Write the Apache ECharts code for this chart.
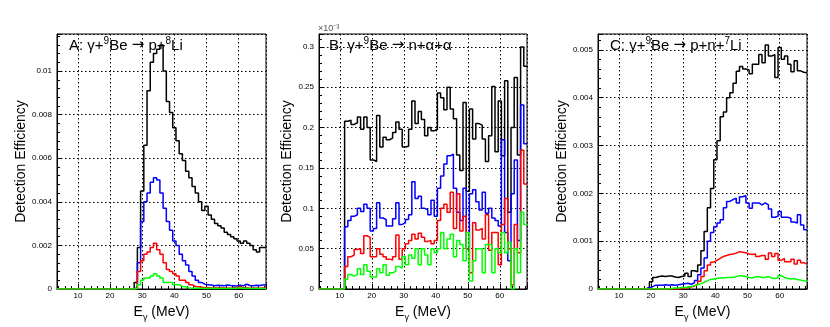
<!DOCTYPE html>
<html>
<head>
<meta charset="utf-8">
<script src="https://cdn.jsdelivr.net/npm/echarts@6/dist/echarts.min.js"></script>
<style>
  html, body { margin: 0; padding: 0; background: #fff; }
  #main { width: 830px; height: 327px; }
</style>
</head>
<body>
<div id="main"></div>
<script>
// bins are 1 MeV wide, centred on 4, 5, ... 68 MeV
var firstBin = 4;

// panel A: gamma + 9Be -> p + 8Li
var aBlack = [0,0,0,0,0,0,0,0,0,0,0,0,0,0,0,0,0,0,0,0,0,0,0,0,
  0.0003,0.0019,0.0045,0.0066,0.0091,0.0104,0.0108,0.0110,0.0112,0.0100,0.0086,0.0081,0.0074,
  0.0068,0.0062,0.0059,0.0054,0.0051,0.0047,0.0044,0.0040,0.0036,0.0038,0.0034,0.0032,0.0030,
  0.0029,0.0028,0.0026,0.0025,0.0024,0.0023,0.0022,0.0021,0.0022,0.0021,0.0020,0.0018,0.0017,
  0.0019,0.0019];
var aBlue = [0,0,0,0,0,0,0,0,0,0,0,0,0,0,0,0,0,0,0,0,0,0,0,0,
  0.00005,0.0012,0.0031,0.0040,0.0044,0.0049,0.0051,0.0050,0.0044,0.0037,0.0031,0.0027,0.0022,
  0.0020,0.0016,0.0013,0.0011,0.0008,0.0006,0.0004,0.0003,0.00022,0.0002,0.00018,0.00015,0.00017,
  0.00016,0.00015,0.00018,0.00016,0.00015,0.00014,0.00017,0.00015,0.00022,0.00016,0.00015,0.00017,
  0.00016,0.00018,0.00019];
var aRed = [0,0,0,0,0,0,0,0,0,0,0,0,0,0,0,0,0,0,0,0,0,0,0,0,
  0.00005,0.0008,0.0013,0.0016,0.0017,0.0019,0.0021,0.0018,0.0016,0.0012,0.0009,0.0008,0.0007,
  0.0006,0.0004,0.0004,0.0003,0.0002,0.00012,0.0001,0.00008,0.00006,0.00007,0.00005,0.00006,0.00005,
  0.00006,0.00005,0.00005,0.00004,0.00006,0.00005,0.00012,0.00005,0.00006,0.00004,0.00005,0.00005,
  0.00004,0.00005,0.00005];
var aGreen = [0,0,0,0,0,0,0,0,0,0,0,0,0,0,0,0,0,0,0,0,0,0,0,0,
  0.00002,0.0002,0.0004,0.0005,0.0005,0.0006,0.0007,0.0006,0.0005,0.0003,0.0003,0.0003,0.0002,
  0.0002,0.00012,0.0001,0.00005,0.00004,0.00003,0.00003,0.00003,0.00002,0.00003,0.00002,0.00003,0.00002,
  0.00003,0.00002,0.00002,0.00003,0.00002,0.00003,0.00006,0.00002,0.00003,0.00002,0.00002,0.00003,
  0.00002,0.00002,0.00002];

// panel B: gamma + 9Be -> n + alpha + alpha  (units of 1e-3)
var bBlack = [0,0,0,0,0,0,0,0,
  0.208,0.209,0.204,0.206,0.213,0.198,0.213,0.200,0.160,0.158,0.215,0.176,0.188,0.185,0.187,0.194,
  0.207,0.198,0.176,0.177,0.198,0.233,0.205,0.220,0.210,0.190,0.200,0.196,0.198,0.243,0.237,0.222,
  0.250,0.223,0.211,0.166,0.147,0.231,0.121,0.223,0.186,0.205,0.203,0.186,0.158,0.190,0.251,0.170,
  0.233,0.165,0.258,0.095,0.200,0.262,0.166,0.300,0.276];
var bBlue = [0,0,0,0,0,0,0,0,
  0.077,0.085,0.090,0.092,0.100,0.096,0.105,0.100,0.072,0.075,0.107,0.088,0.086,0.078,0.078,0.087,
  0.107,0.080,0.082,0.086,0.092,0.133,0.112,0.115,0.100,0.098,0.092,0.110,0.090,0.125,0.140,0.155,
  0.165,0.167,0.125,0.095,0.085,0.125,0.050,0.118,0.123,0.108,0.098,0.120,0.094,0.100,0.088,0.085,
  0.078,0.185,0.070,0.035,0.118,0.160,0.060,0.228,0.180];
var bRed = [0,0,0,0,0,0,0,0,
  0.028,0.040,0.042,0.049,0.050,0.044,0.066,0.064,0.040,0.040,0.050,0.043,0.040,0.037,0.036,0.040,
  0.067,0.037,0.050,0.056,0.060,0.068,0.062,0.069,0.064,0.059,0.060,0.056,0.060,0.085,0.100,0.105,
  0.095,0.120,0.075,0.118,0.072,0.090,0.050,0.020,0.082,0.073,0.075,0.062,0.092,0.048,0.070,0.070,
  0.030,0.080,0.112,0.050,0.005,0.080,0.045,0.172,0.130];
var bGreen = [0,0,0,0,0,0,0,0,
  0.012,0.018,0.016,0.018,0.025,0.018,0.030,0.022,0.015,0.015,0.025,0.020,0.030,0.017,0.020,0.022,
  0.028,0.026,0.040,0.030,0.042,0.038,0.050,0.030,0.050,0.042,0.030,0.050,0.045,0.050,0.070,0.050,
  0.062,0.068,0.040,0.060,0.055,0.035,0.070,0.010,0.035,0.050,0.050,0.020,0.055,0.055,0.020,0.050,
  0.045,0.070,0.045,0.058,0.000,0.050,0.020,0.095,0.080];

// panel C: gamma + 9Be -> p + n + 7Li
var cBlack = [0,0,0,0,0,0,0,0,0,0,0,0,0,0,0,
  0.00004,0.00015,0.00024,0.00026,0.00027,0.00026,0.00027,0.00027,0.00025,0.00024,0.00026,0.00027,
  0.00033,0.00026,0.00038,0.00036,0.00050,0.0008,0.0012,0.0017,0.0021,0.0027,0.0031,0.0036,0.0037,
  0.0040,0.0041,0.0043,0.00455,0.00465,0.0046,0.00458,0.0045,0.0047,0.0047,0.0049,0.00473,0.0051,
  0.00487,0.0049,0.00442,0.00505,0.0048,0.00487,0.0047,0.00454,0.00477,0.00456,0.00453,0.00452];
var cBlue = [0,0,0,0,0,0,0,0,0,0,0,0,0,0,0,
  0.00002,0.00005,0.00008,0.00008,0.00008,0.00009,0.00008,0.00009,0.00008,0.00009,0.0001,0.00011,
  0.00012,0.0001,0.00013,0.00018,0.0003,0.00044,0.00065,0.0010,0.00118,0.0013,0.00138,0.00145,0.0017,
  0.00183,0.00187,0.0019,0.0018,0.00193,0.00195,0.0018,0.00169,0.0018,0.0018,0.00176,0.0018,0.00176,
  0.00167,0.0015,0.00152,0.00162,0.0015,0.0015,0.00148,0.0014,0.00138,0.00155,0.00134,0.00124];
var cRed = [0,0,0,0,0,0,0,0,0,0,0,0,0,0,0,
  0,0,0,0,0,0,0,0,0,0,
  0.00001,0.00002,0.00003,0.00004,0.00006,0.0001,0.00016,0.00026,0.00038,0.0005,0.00056,0.0006,
  0.00064,0.00068,0.0007,0.00072,0.00073,0.00075,0.00078,0.00077,0.00076,0.00073,0.00072,0.00073,
  0.00068,0.0007,0.0007,0.00062,0.00075,0.00068,0.00074,0.0006,0.00064,0.00057,0.00057,0.00062,
  0.00052,0.0006,0.00055,0.00052];
var cGreen = [0,0,0,0,0,0,0,0,0,0,0,0,0,0,0,
  0,0,0,0,0,0,0,
  0.00001,0.00002,0.00002,0.00003,0.00003,0.00004,0.00005,0.00007,0.00009,0.00011,0.00014,0.00017,
  0.0002,0.00021,0.00022,0.00023,0.00023,0.00024,0.00024,0.00024,0.00026,0.00028,0.00027,0.00026,
  0.00024,0.00023,0.00025,0.00026,0.00024,0.00024,0.00026,0.00023,0.00022,0.00023,0.00028,0.00024,
  0.00022,0.00021,0.00022,0.0002,0.00019,0.00017,0.00016];

// reaction labels, rich-text: {p|} plain, {u|} superscript, {a|} arrow
var panelTitles = [
    '{p|A: γ+}{u|9}{p|Be }{a|→}{p| p+}{u|8}{p|Li}',
    '{p|B: γ+}{u|9}{p|Be }{a|→}{p| n+α+α}',
    '{p|C: γ+}{u|9}{p|Be }{a|→}{p| p+n+}{u|7}{p|Li}'
];
var yMax = [0.0117, 0.316, 0.00533];
var yStep = [0.002, 0.05, 0.001];
var colors = ['#000000', '#0000ff', '#ff0000', '#00ff00'];

var FONT = '"Liberation Sans", Arial, Helvetica, sans-serif';

// histogram outline: one point at every bin's low edge, plus the last high edge
function histo(vals) {
    var pts = vals.map(function (v, i) { return [firstBin + i - 0.5, v]; });
    pts.push([firstBin + vals.length - 0.5, vals[vals.length - 1]]);
    return pts;
}

var myChart = echarts.init(document.getElementById('main'), null, { renderer: 'canvas' });

var grids = [
    { left: 57, top: 34, width: 209, height: 258 },
    { left: 319, top: 34, width: 208, height: 258 },
    { left: 598, top: 34, width: 209, height: 258 }
];
var yNameGap = [22, 17, 23];

var dotted = { color: '#000', width: 1, type: [1.5, 2.5] };

var xAxes = [], yAxes = [];
for (var p = 0; p < 3; p++) {
    grids[p].show = true;
    grids[p].borderColor = '#000';
    grids[p].borderWidth = 1;
    grids[p].backgroundColor = 'transparent';
    xAxes.push({
        type: 'value', gridIndex: p, min: 3.5, max: 68.5, splitNumber: 6,
        axisLine: { show: true, lineStyle: { color: '#000', width: 1 } },
        axisTick: { inside: true, length: 5, lineStyle: { color: '#000' } },
        minorTick: { show: true, splitNumber: 5, length: 3, lineStyle: { color: '#000' } },
        axisLabel: { fontSize: 8, color: '#000', margin: 3, fontFamily: FONT,
                     showMinLabel: false, showMaxLabel: false },
        splitLine: { show: true, lineStyle: dotted },
        name: '{e|E}{s|γ}{e| (MeV)}', nameLocation: 'middle', nameGap: 13,
        nameTextStyle: {
            fontFamily: FONT, color: '#000',
            rich: {
                e: { fontSize: 14, fontFamily: FONT, color: '#000', lineHeight: 20, verticalAlign: 'middle' },
                s: { fontSize: 9, fontFamily: FONT, color: '#000', lineHeight: 20, verticalAlign: 'bottom' }
            }
        }
    });
    yAxes.push({
        type: 'value', gridIndex: p, min: 0, max: yMax[p], interval: yStep[p],
        axisLine: { show: true, lineStyle: { color: '#000', width: 1 } },
        axisTick: { inside: true, length: 5, lineStyle: { color: '#000' } },
        minorTick: { show: true, splitNumber: 5, length: 3, lineStyle: { color: '#000' } },
        axisLabel: { fontSize: 8, color: '#000', margin: 5, fontFamily: FONT, showMaxLabel: false },
        splitLine: { show: true, lineStyle: dotted },
        name: 'Detection Efficiency', nameLocation: 'middle', nameGap: yNameGap[p],
        nameTextStyle: { fontSize: 14, color: '#000', fontFamily: FONT }
    });
}

var panels = [
    [aBlack, aBlue, aRed, aGreen],
    [bBlack, bBlue, bRed, bGreen],
    [cBlack, cBlue, cRed, cGreen]
];
var series = [];
panels.forEach(function (set, p) {
    set.forEach(function (vals, k) {
        series.push({
            type: 'line', step: 'end', xAxisIndex: p, yAxisIndex: p,
            data: histo(vals), symbol: 'none', silent: true,
            lineStyle: { color: colors[k], width: 1.5 },
            itemStyle: { color: colors[k] },
            z: 3 + k
        });
    });
});

var titleRich = {
    p: { fontSize: 15, fontFamily: FONT, color: '#000', lineHeight: 17, verticalAlign: 'bottom' },
    u: { fontSize: 10, fontFamily: FONT, color: '#000', lineHeight: 11, verticalAlign: 'top' },
    a: { fontSize: 15, fontFamily: '"DejaVu Sans", sans-serif', color: '#000', lineHeight: 17, verticalAlign: 'bottom' }
};
var titleLeft = [69, 329, 610];
var titles = panelTitles.map(function (t, p) {
    return {
        text: t, left: titleLeft[p], top: 36, padding: 0,
        textStyle: { fontSize: 15, fontWeight: 'normal', color: '#000', fontFamily: FONT, rich: titleRich }
    };
});
titles.push({
    text: '×10⁻³', left: 318, top: 24, padding: 0,
    textStyle: { fontSize: 9, fontWeight: 'normal', color: '#555', fontFamily: FONT }
});

var option = {
    backgroundColor: '#fff',
    animation: false,
    title: titles,
    grid: grids,
    xAxis: xAxes,
    yAxis: yAxes,
    series: series
};
myChart.setOption(option);
</script>
</body>
</html>
